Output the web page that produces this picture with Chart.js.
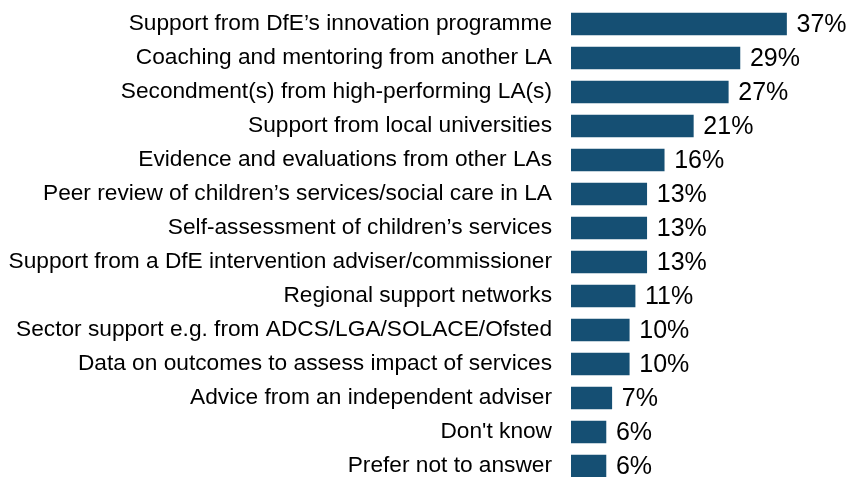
<!DOCTYPE html>
<html>
<head>
<meta charset="utf-8">
<script src="https://cdn.jsdelivr.net/npm/chart.js@4.4.1/dist/chart.umd.min.js"></script>
<style>
html,body{margin:0;padding:0;background:#fff;overflow:hidden;}
#wrap{position:relative;width:847px;height:490px;}
</style>
</head>
<body>
<div id="wrap"><canvas id="c"></canvas></div>
<script>
const categories = [
  "Support from DfE\u2019s innovation programme",
  "Coaching and mentoring from another LA",
  "Secondment(s) from high-performing LA(s)",
  "Support from local universities",
  "Evidence and evaluations from other LAs",
  "Peer review of children\u2019s services/social care in LA",
  "Self-assessment of children\u2019s services",
  "Support from a DfE intervention adviser/commissioner",
  "Regional support networks",
  "Sector support e.g. from ADCS/LGA/SOLACE/Ofsted",
  "Data on outcomes to assess impact of services",
  "Advice from an independent adviser",
  "Don't know",
  "Prefer not to answer"
];
const values = [37, 29, 27, 21, 16, 13, 13, 13, 11, 10, 10, 7, 6, 6];
const valueLabels = ["37%","29%","27%","21%","16%","13%","13%","13%","11%","10%","10%","7%","6%","6%"];

const valueLabelPlugin = {
  id: 'valueLabels',
  afterDatasetsDraw(chart) {
    const ctx = chart.ctx;
    const meta = chart.getDatasetMeta(0);
    ctx.save();
    ctx.font = '25px "Liberation Sans", Arial, sans-serif';
    ctx.fillStyle = '#000';
    ctx.textBaseline = 'middle';
    ctx.textAlign = 'left';
    meta.data.forEach((bar, i) => {
      ctx.fillText(valueLabels[i], bar.x + 10, bar.y + 1);
    });
    ctx.restore();
  }
};

new Chart(document.getElementById('c'), {
  type: 'bar',
  data: {
    labels: categories,
    datasets: [{
      data: values,
      backgroundColor: '#154f73',
      borderWidth: 0,
      barThickness: 22,
      categoryPercentage: 1,
      barPercentage: 1
    }]
  },
  options: {
    indexAxis: 'y',
    responsive: true,
    maintainAspectRatio: false,
    animation: false,
    layout: { padding: { top: 7, bottom: 7, left: 0, right: 43 } },
    plugins: { legend: { display: false }, tooltip: { enabled: false } },
    scales: {
      x: {
        min: 0, max: 40,
        display: false,
        grid: { display: false }
      },
      y: {
        afterFit: s => { s.width = 571; s.paddingTop = 0; s.paddingBottom = 0; },
        grid: { display: false, drawTicks: false },
        border: { display: false },
        ticks: {
          padding: 19,
          color: '#000',
          font: { family: '"Liberation Sans", Arial, sans-serif', size: 22.7 }
        }
      }
    }
  },
  plugins: [valueLabelPlugin]
});
</script>
</body>
</html>
